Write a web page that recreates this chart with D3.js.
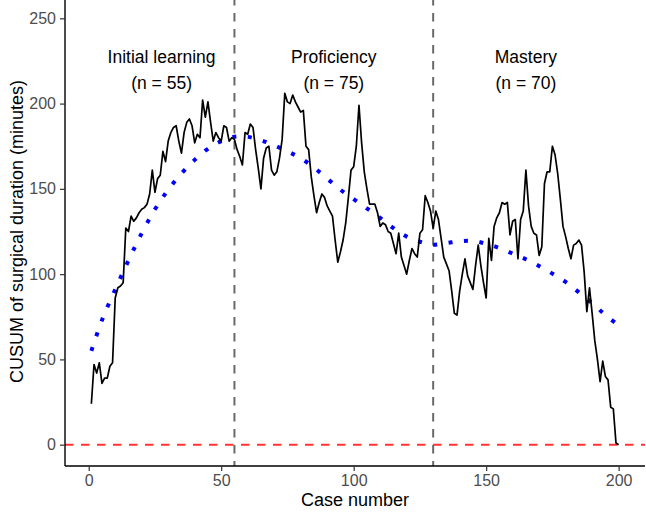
<!DOCTYPE html>
<html>
<head>
<meta charset="utf-8">
<script src="https://cdn.jsdelivr.net/npm/d3@7.9.0/dist/d3.min.js"></script>
<style>
  body { margin: 0; background: #fff; }
  svg { display: block; font-family: "Liberation Sans", Arial, sans-serif; }
</style>
</head>
<body>
<svg id="chart"></svg>
<script>
// CUSUM of surgical duration (cases 1..200)
const cusum = [
  24, 47, 42, 48, 36, 39, 39, 46, 48, 86,
  92, 93, 95, 127, 125, 134, 131, 133, 136, 138,
  139, 141, 147, 161, 148, 156, 158, 172, 166, 178,
  183, 186, 187, 178, 171, 183, 189, 191, 187, 177,
  182, 180, 202, 192, 201, 189, 178, 183, 180, 178,
  187, 186, 178, 180, 179, 173, 169, 164, 183, 182,
  188, 186, 173, 162, 150, 168, 174, 175, 161, 158,
  160, 168, 179, 206, 201, 200, 205, 201, 198, 195,
  196, 175, 173, 157, 146, 136, 142, 147, 145, 140,
  137, 134, 120, 107, 113, 120, 130, 145, 161, 163,
  175, 199, 177, 160, 150, 141, 141, 141, 136, 128,
  130, 129, 125, 124, 118, 112, 124, 110, 105, 100,
  108, 115, 112, 110, 124, 126, 146, 142, 137, 127,
  137, 132, 121, 110, 106, 102, 90, 77, 76, 90,
  100, 109, 99, 95, 91, 105, 117, 105, 95, 86,
  121, 108, 128, 133, 136, 142, 141, 142, 123, 131,
  132, 109, 132, 137, 161, 140, 128, 124, 123, 111,
  116, 153, 160, 160, 175, 170, 159, 144, 128, 122,
  115, 109, 117, 118, 120, 117, 101, 78, 92, 77,
  61, 50, 37, 49, 40, 38, 22, 21, 1, 0
];

// fitted trend (blue dotted)
const fitCases = [1, 5, 10, 15, 20, 25, 30, 35, 40, 45, 50, 55, 60, 65, 70, 75, 80, 85, 90, 95, 100,
  105, 110, 115, 120, 125, 130, 135, 140, 145, 150, 155, 160, 165, 170, 175, 180, 185, 190, 195, 200];
const fitValues = [55, 73, 91, 108, 124, 138, 149.5, 159, 167, 173.5, 178, 180.5, 180.5, 178.5, 175.5, 172, 168, 162.5, 156, 149.5, 144,
  138.5, 133, 127, 122, 119, 117.3, 118.2, 119.3, 119.5, 117.8, 115.3, 112, 108.7, 104.7, 100.3, 95.4, 89.3, 83, 76, 70];

// phases
const phaseBreaks = [55, 130];
const phaseNames = ['Initial learning', 'Proficiency', 'Mastery'];
const phaseN = ['(n = 55)', '(n = 75)', '(n = 70)'];
const phaseMid = [27.5, 92.5, 165];

const xTicks = [0, 50, 100, 150, 200];
const yTicks = [0, 50, 100, 150, 200, 250];

const width = 646;
const height = 512;
const svg = d3.select('#chart').attr('width', width).attr('height', height);

const x = d3.scaleLinear().domain([-8.95, 209.95]).range([65, 645]);
const y = d3.scaleLinear().domain([-12.5, 262.5]).range([466, -3]);

// reference line at zero
svg.append('line')
  .attr('x1', x.range()[0]).attr('x2', x.range()[1])
  .attr('y1', y(0)).attr('y2', y(0))
  .attr('stroke', '#ff3333').attr('stroke-width', 2)
  .attr('stroke-dasharray', '8.5 7.5');

// phase boundaries
svg.selectAll('line.vbreak')
  .data(phaseBreaks)
  .join('line')
  .attr('class', 'vbreak')
  .attr('x1', (d) => x(d)).attr('x2', (d) => x(d))
  .attr('y1', y.range()[1]).attr('y2', y.range()[0])
  .attr('stroke', '#6a6a6a').attr('stroke-width', 2)
  .attr('stroke-dasharray', '8.5 7.5');

// fitted curve
const fitLine = d3.line()
  .x((d, i) => x(fitCases[i]))
  .y((d) => y(d))
  .curve(d3.curveCatmullRom);

svg.append('path')
  .attr('d', fitLine(fitValues))
  .attr('fill', 'none')
  .attr('stroke', '#0000ff')
  .attr('stroke-width', 4)
  .attr('stroke-dasharray', '4 11.5');

// CUSUM line
const line = d3.line()
  .x((d, i) => x(i + 1))
  .y((d) => y(d));

svg.append('path')
  .attr('d', line(cusum))
  .attr('fill', 'none')
  .attr('stroke', '#000')
  .attr('stroke-width', 1.7)
  .attr('stroke-linejoin', 'round');

// phase labels
svg.selectAll('text.phase')
  .data(phaseNames)
  .join('text')
  .attr('class', 'phase')
  .attr('x', (d, i) => x(phaseMid[i]))
  .attr('y', y(220) - 6)
  .attr('text-anchor', 'middle')
  .attr('font-size', 17.5)
  .text((d) => d);

svg.selectAll('text.phasen')
  .data(phaseN)
  .join('text')
  .attr('class', 'phasen')
  .attr('x', (d, i) => x(phaseMid[i]))
  .attr('y', y(220) + 20)
  .attr('text-anchor', 'middle')
  .attr('font-size', 17.5)
  .text((d) => d);

// axes
const xAxis = d3.axisBottom(x).tickValues(xTicks).tickSize(5).tickPadding(4);
const yAxis = d3.axisLeft(y).tickValues(yTicks).tickSize(5).tickPadding(4);

const gx = svg.append('g')
  .attr('transform', `translate(0, ${y.range()[0]})`)
  .call(xAxis);
const gy = svg.append('g')
  .attr('transform', `translate(${x.range()[0]}, 0)`)
  .call(yAxis);

[gx, gy].forEach((g) => {
  g.select('.domain').attr('stroke', '#000').attr('stroke-width', 1.4);
  g.selectAll('.tick line').attr('stroke', '#333').attr('stroke-width', 1.2);
  g.selectAll('.tick text')
    .attr('fill', '#4d4d4d')
    .attr('font-size', 16)
    .attr('font-family', '"Liberation Sans", Arial, sans-serif');
});
gx.select('.domain').attr('d', `M${x.range()[0]},0H${x.range()[1]}`);
gy.select('.domain').attr('d', `M0,${y.range()[0]}V${y.range()[1]}`);

// axis titles
svg.append('text')
  .attr('x', (x.range()[0] + x.range()[1]) / 2)
  .attr('y', 506)
  .attr('text-anchor', 'middle')
  .attr('font-size', 18)
  .text('Case number');

svg.append('text')
  .attr('transform', `translate(23, ${(y.range()[0] + y.range()[1]) / 2}) rotate(-90)`)
  .attr('text-anchor', 'middle')
  .attr('font-size', 18)
  .text('CUSUM of surgical duration (minutes)');
</script>
</body>
</html>
